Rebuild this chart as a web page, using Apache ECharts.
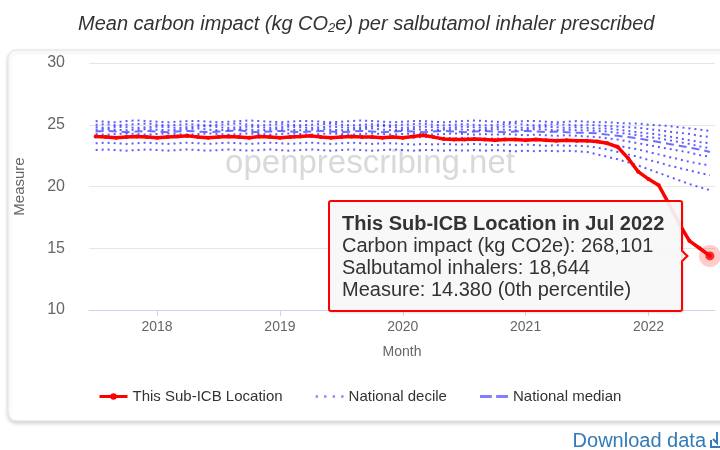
<!DOCTYPE html>
<html>
<head>
<meta charset="utf-8">
<script src="https://cdn.jsdelivr.net/npm/echarts@6/dist/echarts.min.js"></script>
<style>
	body { margin: 0; background: #fff; }
	#main { width: 720px; height: 450px; }
	#main div[style*="rotate"] {
		border-bottom-color: #ff0000 !important;
		border-right-color: #ff0000 !important;
	}
</style>
</head>
<body>
<div id="main"></div>
<script>
var months = ['2017-07', '2017-08', '2017-09', '2017-10', '2017-11', '2017-12',
	'2018-01', '2018-02', '2018-03', '2018-04', '2018-05', '2018-06', '2018-07', '2018-08', '2018-09', '2018-10', '2018-11', '2018-12',
	'2019-01', '2019-02', '2019-03', '2019-04', '2019-05', '2019-06', '2019-07', '2019-08', '2019-09', '2019-10', '2019-11', '2019-12',
	'2020-01', '2020-02', '2020-03', '2020-04', '2020-05', '2020-06', '2020-07', '2020-08', '2020-09', '2020-10', '2020-11', '2020-12',
	'2021-01', '2021-02', '2021-03', '2021-04', '2021-05', '2021-06', '2021-07', '2021-08', '2021-09', '2021-10', '2021-11', '2021-12',
	'2022-01', '2022-02', '2022-03', '2022-04', '2022-05', '2022-06', '2022-07'
];
var tickYears = ['2018', '2019', '2020', '2021', '2022'];

var subIcb = [24.05, 24.0, 23.95, 24.0, 24.05, 24.0, 23.95, 24.0, 24.05, 24.1,
	24.0, 23.95, 24.0, 24.05, 24.0, 23.95, 24.05, 24.0, 23.95, 24.0,
	24.05, 24.1, 24.0, 23.95, 24.0, 24.05, 24.0, 24.0, 23.95, 24.0,
	23.95, 24.05, 24.15, 24.0, 23.85, 23.8,
	23.8, 23.85, 23.8, 23.75, 23.8, 23.8, 23.75, 23.8, 23.75, 23.7, 23.75, 23.7,
	23.7, 23.65, 23.5, 23.2, 22.3, 21.2, 20.6, 20.1, 18.6, 17.0, 15.6, 15.0, 14.38
];

var p90 = [25.3, 25.25, 25.2, 25.3, 25.35, 25.3, 25.25, 25.2, 25.25, 25.3, 25.3, 25.25,
	25.2, 25.25, 25.3, 25.35, 25.3, 25.25, 25.2, 25.25, 25.3, 25.3, 25.25, 25.2,
	25.25, 25.3, 25.35, 25.3, 25.25, 25.2, 25.25, 25.3, 25.3, 25.25, 25.2, 25.25,
	25.3, 25.35, 25.3, 25.25, 25.2, 25.25, 25.3, 25.3, 25.25, 25.2, 25.25, 25.3,
	25.25, 25.2, 25.2, 25.15, 25.1, 25.1, 25.0, 24.95, 24.9, 24.8, 24.7, 24.6, 24.5
];
var p80 = [25.0, 25.05, 24.95, 25.0, 25.05, 25.1, 25.0, 24.95, 25.0, 25.05, 25.0, 24.95,
	25.0, 25.05, 25.1, 25.0, 24.95, 25.0, 25.05, 25.0, 24.95, 25.0, 25.05, 25.1,
	25.0, 24.95, 25.0, 25.05, 25.0, 24.95, 25.0, 25.05, 25.1, 25.0, 24.95, 25.0,
	25.05, 25.0, 24.95, 25.0, 25.05, 25.1, 25.0, 24.95, 25.0, 25.05, 25.0, 24.95,
	25.0, 24.95, 24.9, 24.85, 24.8, 24.75, 24.65, 24.55, 24.45, 24.35, 24.25, 24.1, 24.0
];
var p70 = [24.8, 24.75, 24.85, 24.8, 24.75, 24.8, 24.85, 24.8, 24.75, 24.8, 24.85, 24.9,
	24.8, 24.75, 24.8, 24.85, 24.8, 24.75, 24.8, 24.85, 24.8, 24.75, 24.8, 24.85,
	24.8, 24.75, 24.8, 24.85, 24.9, 24.8, 24.75, 24.8, 24.85, 24.8, 24.75, 24.8,
	24.85, 24.8, 24.75, 24.8, 24.85, 24.8, 24.75, 24.8, 24.85, 24.8, 24.75, 24.8,
	24.75, 24.7, 24.7, 24.6, 24.5, 24.4, 24.3, 24.2, 24.05, 23.9, 23.75, 23.6, 23.5
];
var p60 = [24.6, 24.65, 24.6, 24.55, 24.6, 24.65, 24.6, 24.55, 24.6, 24.65, 24.7, 24.6,
	24.55, 24.6, 24.65, 24.6, 24.55, 24.6, 24.65, 24.6, 24.55, 24.6, 24.65, 24.6,
	24.55, 24.6, 24.65, 24.7, 24.6, 24.55, 24.6, 24.65, 24.6, 24.55, 24.6, 24.65,
	24.6, 24.55, 24.6, 24.65, 24.6, 24.55, 24.6, 24.65, 24.6, 24.55, 24.6, 24.55,
	24.55, 24.5, 24.45, 24.35, 24.25, 24.15, 24.0, 23.9, 23.75, 23.6, 23.45, 23.25, 23.1
];
var median = [24.45, 24.5, 24.45, 24.4, 24.45, 24.5, 24.45, 24.4, 24.45, 24.5, 24.45, 24.4,
	24.45, 24.5, 24.55, 24.45, 24.4, 24.45, 24.5, 24.45, 24.4, 24.45, 24.5, 24.45,
	24.4, 24.45, 24.5, 24.45, 24.4, 24.45, 24.5, 24.45, 24.4, 24.45, 24.5, 24.45,
	24.4, 24.45, 24.5, 24.45, 24.4, 24.45, 24.5, 24.45, 24.4, 24.45, 24.4, 24.35,
	24.35, 24.3, 24.2, 24.1, 24.0, 23.9, 23.75, 23.6, 23.45, 23.3, 23.15, 23.0, 22.8
];
var p40 = [24.25, 24.2, 24.25, 24.3, 24.25, 24.2, 24.25, 24.3, 24.25, 24.2, 24.25, 24.3,
	24.25, 24.2, 24.25, 24.3, 24.25, 24.2, 24.25, 24.3, 24.25, 24.2, 24.25, 24.3,
	24.25, 24.2, 24.25, 24.3, 24.25, 24.2, 24.25, 24.3, 24.25, 24.2, 24.25, 24.3,
	24.25, 24.2, 24.25, 24.2, 24.25, 24.2, 24.15, 24.2, 24.15, 24.1, 24.15, 24.1,
	24.05, 24.0, 23.9, 23.8, 23.65, 23.5, 23.35, 23.2, 23.05, 22.9, 22.75, 22.55, 22.4
];
var p30 = [24.0, 24.05, 24.0, 23.95, 24.0, 24.05, 24.0, 23.95, 24.0, 24.05, 24.0, 23.95,
	24.0, 24.05, 24.0, 23.95, 24.0, 24.05, 24.0, 23.95, 24.0, 24.05, 24.0, 23.95,
	24.0, 24.05, 24.0, 23.95, 24.0, 24.05, 24.0, 23.95, 24.0, 24.0, 23.95, 23.9,
	23.95, 23.9, 23.85, 23.9, 23.85, 23.8, 23.85, 23.8, 23.75, 23.8, 23.75, 23.7,
	23.65, 23.55, 23.45, 23.3, 23.15, 23.0, 22.8, 22.6, 22.4, 22.2, 22.0, 21.85, 21.7
];
var p20 = [23.5, 23.55, 23.5, 23.45, 23.5, 23.55, 23.5, 23.45, 23.5, 23.55, 23.5, 23.45,
	23.5, 23.55, 23.5, 23.45, 23.5, 23.55, 23.5, 23.45, 23.5, 23.55, 23.5, 23.45,
	23.5, 23.55, 23.5, 23.45, 23.5, 23.5, 23.45, 23.4, 23.45, 23.4, 23.45, 23.4,
	23.4, 23.45, 23.4, 23.35, 23.4, 23.35, 23.4, 23.35, 23.3, 23.35, 23.3, 23.3,
	23.25, 23.15, 23.0, 22.8, 22.6, 22.4, 22.15, 21.95, 21.7, 21.5, 21.3, 21.1, 20.9
];
var p10 = [22.95, 23.0, 22.95, 22.9, 22.95, 23.0, 22.95, 22.9, 22.95, 23.0, 22.95, 22.9,
	22.95, 23.0, 22.95, 22.9, 22.95, 23.0, 22.95, 22.9, 22.95, 23.0, 22.95, 22.9,
	22.95, 23.0, 22.95, 22.9, 22.95, 23.0, 22.95, 22.9, 22.95, 22.95, 22.9, 22.95,
	22.9, 22.95, 22.9, 22.95, 22.9, 22.85, 22.9, 22.85, 22.9, 22.85, 22.9, 22.85,
	22.8, 22.6, 22.4, 22.2, 21.95, 21.7, 21.4, 21.1, 20.8, 20.5, 20.2, 19.95, 19.7
];

// tooltip figures for the last month
var tipMonth = 'Jul 2022';
var tipCarbon = 268101;
var tipInhalers = 18644;

var FONT = '"Liberation Sans", Arial, sans-serif';
var decileColor = 'rgba(30,30,255,0.72)';
var medianColor = 'rgba(30,30,255,0.65)';

// months counted from Jan 2018
function monthIndex(s) {
	var p = s.split('-');
	return (parseInt(p[0], 10) - 2018) * 12 + parseInt(p[1], 10) - 1;
}
function pairs(vals) {
	return vals.map(function(v, i) {
		return [monthIndex(months[i]), v];
	});
}
var yearTicks = tickYears.map(function(y) {
	return monthIndex(y + '-01');
});

function decile(vals) {
	return {
		name: 'National decile',
		type: 'line',
		data: pairs(vals),
		symbol: 'none',
		color: decileColor,
		lineStyle: { width: 2, type: [2, 4], color: decileColor },
		emphasis: { disabled: true },
		silent: true,
		z: 2
	};
}

var last = subIcb.length - 1;
var lastPoint = [monthIndex(months[last]), subIcb[last]];

var series = [
	decile(p10), decile(p20), decile(p30), decile(p40),
	decile(p60), decile(p70), decile(p80), decile(p90),
	{
		name: 'National median',
		type: 'line',
		data: pairs(median),
		symbol: 'none',
		color: medianColor,
		lineStyle: { width: 2, type: [8, 5], color: medianColor },
		emphasis: { disabled: true },
		silent: true,
		z: 3
	},
	{
		name: 'This Sub-ICB Location',
		type: 'line',
		data: pairs(subIcb),
		symbol: 'circle',
		symbolSize: 4,
		showSymbol: true,
		color: '#ff0000',
		lineStyle: { width: 3.5, color: '#ff0000' },
		emphasis: { disabled: true },
		silent: true,
		z: 5
	},
	{
		name: 'halo',
		type: 'scatter',
		data: [lastPoint],
		symbolSize: 22,
		itemStyle: { color: 'rgba(255,0,0,0.25)' },
		emphasis: { disabled: true },
		silent: true,
		z: 6
	},
	{
		name: 'dot',
		type: 'scatter',
		data: [lastPoint],
		symbolSize: 9,
		itemStyle: { color: '#ff0000' },
		emphasis: { disabled: true },
		silent: true,
		z: 7
	},
	{
		// invisible target the tooltip hangs off
		name: 'tip',
		type: 'scatter',
		data: [lastPoint],
		symbolSize: 32,
		itemStyle: { color: '#ff0000', opacity: 0 },
		emphasis: { disabled: true },
		z: 1
	}
];

var option = {
	animation: false,
	textStyle: { fontFamily: FONT },
	title: {
		text: '{a|Mean carbon impact (kg CO}{s|2}{a|e) per salbutamol inhaler prescribed}',
		left: 73,
		top: 8,
		textStyle: {
			fontWeight: 'normal',
			rich: {
				a: { fontSize: 20, fontStyle: 'italic', fontWeight: 'normal', color: '#333', fontFamily: FONT },
				s: { fontSize: 13, fontStyle: 'italic', fontWeight: 'normal', color: '#333', fontFamily: FONT, padding: [9, 0, 0, 0] }
			}
		}
	},
	graphic: [{
		type: 'rect',
		silent: true,
		shape: { x: 8, y: 50, width: 740, height: 371, r: 8 },
		style: {
			fill: '#fff',
			stroke: '#e2e2e2',
			lineWidth: 1,
			shadowBlur: 4,
			shadowOffsetY: 2,
			shadowColor: 'rgba(0,0,0,0.18)'
		}
	}, {
		type: 'text',
		silent: true,
		x: 370,
		y: 164,
		style: {
			text: 'openprescribing.net',
			font: '33px ' + FONT,
			fill: '#d9d9d9',
			align: 'center',
			verticalAlign: 'middle'
		}
	}, {
		type: 'text',
		silent: true,
		x: 706,
		y: 441,
		style: {
			text: 'Download data',
			font: '20px ' + FONT,
			fill: '#337ab7',
			align: 'right',
			verticalAlign: 'middle'
		}
	}, {
		// download glyph, cut by the right edge
		type: 'polyline',
		silent: true,
		shape: { points: [[711, 440], [711, 447], [724, 447]] },
		style: { stroke: '#337ab7', lineWidth: 2, fill: null }
	}, {
		type: 'polyline',
		silent: true,
		shape: { points: [[717, 432], [717, 443], [713, 439]] },
		style: { stroke: '#337ab7', lineWidth: 2, fill: null }
	}],
	grid: { left: 89, right: 5, top: 63, bottom: 140 },
	xAxis: {
		type: 'value',
		min: -6.65,
		max: 54.5,
		name: 'Month',
		nameLocation: 'middle',
		nameGap: 35,
		nameTextStyle: { color: '#666', fontSize: 14, fontFamily: FONT },
		splitLine: { show: false },
		axisLine: { show: true, lineStyle: { color: '#ccd6eb' } },
		axisTick: { show: true, length: 6, customValues: yearTicks, lineStyle: { color: '#ccd6eb' } },
		axisLabel: {
			customValues: yearTicks,
			color: '#666',
			fontSize: 14,
			margin: 10,
			formatter: function(v) {
				return tickYears[yearTicks.indexOf(v)];
			}
		}
	},
	yAxis: {
		type: 'value',
		min: 10,
		max: 30,
		interval: 5,
		name: 'Measure',
		nameLocation: 'middle',
		nameGap: 62,
		nameTextStyle: { color: '#666', fontSize: 15, fontFamily: FONT },
		axisLine: { show: false },
		axisTick: { show: false },
		splitLine: { lineStyle: { color: '#e6e6e6' } },
		axisLabel: { color: '#666', fontSize: 16, margin: 24 }
	},
	legend: {
		left: 93,
		top: 384,
		itemWidth: 28,
		itemHeight: 8,
		itemGap: 33,
		textStyle: { color: '#333', fontSize: 15, fontFamily: FONT },
		data: [
			{ name: 'This Sub-ICB Location', lineStyle: { width: 3 } },
			{ name: 'National decile', icon: 'path://M0,0h2v2h-2zM7,0h2v2h-2zM14,0h2v2h-2zM21,0h2v2h-2z', itemStyle: { color: 'rgba(60,60,255,0.6)', borderWidth: 0 } },
			{ name: 'National median', icon: 'path://M0,0h11v3h-11zM15,0h11v3h-11z', itemStyle: { color: 'rgba(60,60,255,0.65)', borderWidth: 0 } }
		]
	},
	tooltip: {
		trigger: 'item',
		triggerOn: 'none',
		alwaysShowContent: true,
		position: 'left',
		backgroundColor: 'rgba(247,247,247,0.92)',
		borderColor: '#ff0000',
		borderWidth: 2,
		padding: [10, 17, 10, 12],
		textStyle: { color: '#333', fontSize: 20, lineHeight: 22, fontFamily: FONT },
		extraCssText: 'border:2px solid #ff0000 !important;border-radius:3px;box-shadow:1px 1px 2px rgba(0,0,0,0.12);line-height:22px;',
		formatter: function() {
			return '<div style="font-weight:bold">This Sub-ICB Location in ' + tipMonth + '</div>' +
				'Carbon impact (kg CO2e): ' + tipCarbon.toLocaleString('en-GB') + '<br/>' +
				'Salbutamol inhalers: ' + tipInhalers.toLocaleString('en-GB') + '<br/>' +
				'Measure: ' + subIcb[last].toFixed(3) + ' (0th percentile)';
		}
	},
	series: series
};

var myChart = echarts.init(document.getElementById('main'));
myChart.setOption(option);
myChart.dispatchAction({ type: 'showTip', seriesIndex: series.length - 1, dataIndex: 0 });
</script>
</body>
</html>
